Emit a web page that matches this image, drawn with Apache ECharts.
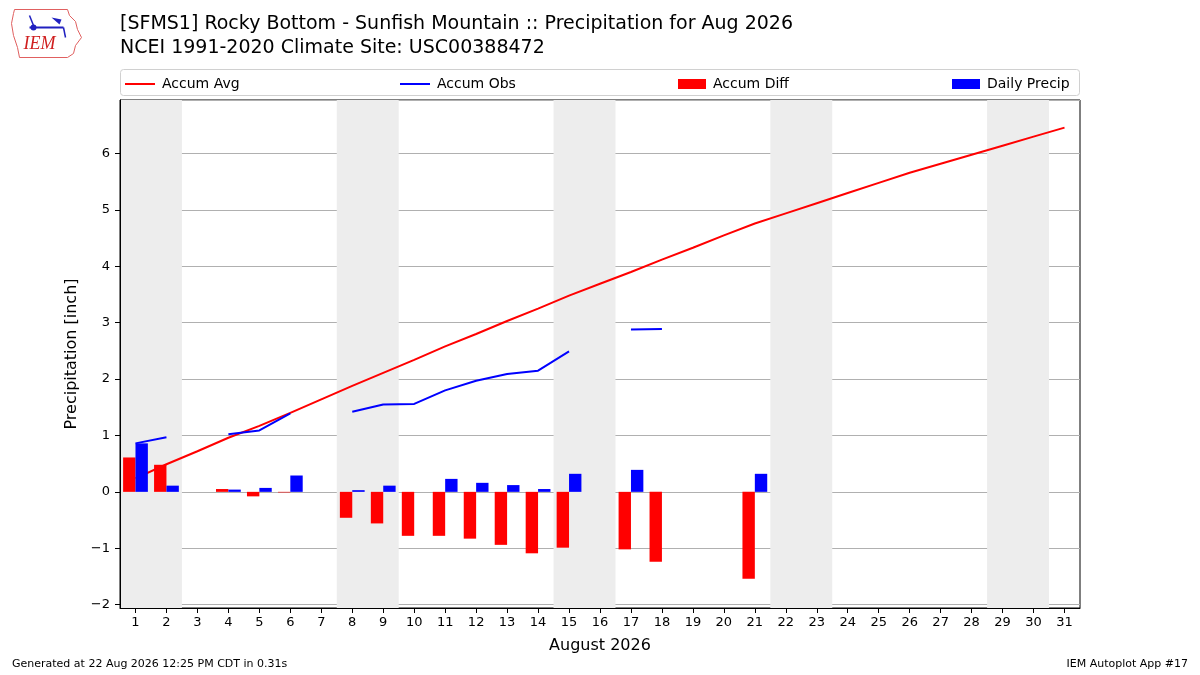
<!DOCTYPE html>
<html>
<head>
<meta charset="utf-8">
<script src="https://cdn.jsdelivr.net/npm/echarts@6/dist/echarts.min.js"></script>
<style>html,body{margin:0;padding:0;background:#fff;}#c{width:1200px;height:675px;}</style>
</head>
<body>
<div id="c"></div>
<script>
const days = Array.from({length: 31}, (_, i) => String(i + 1));
const accumAvg = [0.24,0.49,0.72,0.96,1.17,1.40,1.64,1.88,2.11,2.34,2.58,2.80,3.03,3.25,3.48,3.69,3.90,4.12,4.33,4.55,4.76,4.94,5.12,5.30,5.48,5.66,5.82,5.98,6.14,6.30,6.46];
const accumObs = [0.86,0.97,null,1.02,1.09,1.39,null,1.42,1.55,1.56,1.80,1.97,2.09,2.15,2.49,null,2.88,2.89,null,null,null,null,null,null,null,null,null,null,null,null,null];
const accumDiff = [0.61,0.48,null,0.05,-0.08,-0.01,null,-0.46,-0.56,-0.78,-0.78,-0.83,-0.94,-1.09,-0.99,null,-1.02,-1.24,null,null,-1.54,null,null,null,null,null,null,null,null,null,null];
const dailyPrecip = [0.86,0.11,null,0.04,0.07,0.29,null,0.03,0.11,null,0.23,0.16,0.12,0.05,0.32,null,0.39,null,null,null,0.32,null,null,null,null,null,null,null,null,null,null];
const weekendDays = [[1,2],[8,9],[15,16],[22,23],[29,30]];
const yTicks = [-2,-1,0,1,2,3,4,5,6];

const FONT = 'DejaVu Sans';
const chart = echarts.init(document.getElementById('c'), null, {renderer: 'canvas'});

function legendAt(left, name, isLine) {
  return {
    show: true, left: left, top: 72, orient: 'horizontal',
    data: [name],
    itemWidth: isLine ? 30 : 28, itemHeight: isLine ? 2 : 10,
    icon: 'rect', itemGap: 10,
    textStyle: {fontFamily: FONT, fontSize: 14, color: '#000', padding: [0,0,0,2]},
    selectedMode: false
  };
}

const option = {
  animation: false,
  backgroundColor: '#fff',
  textStyle: {fontFamily: FONT},
  title: [
    {text: '[SFMS1] Rocky Bottom - Sunfish Mountain :: Precipitation for Aug 2026\nNCEI 1991-2020 Climate Site: USC00388472',
     left: 115, top: 7, textStyle: {fontFamily: FONT, fontSize: 19, fontWeight: 'normal', color: '#000', lineHeight: 24}}
  ],
  legend: [
    legendAt(120, 'Accum Avg', true),
    legendAt(395, 'Accum Obs', true),
    legendAt(673, 'Accum Diff', false),
    legendAt(947, 'Daily Precip', false)
  ],
  grid: {left: 120, right: 120, top: 100, bottom: 67, show: true, borderColor: '#000', borderWidth: 1, containLabel: false},
  xAxis: [
    {type: 'category', data: days, boundaryGap: true,
     name: 'August 2026', nameLocation: 'middle', nameGap: 30,
     nameTextStyle: {fontFamily: FONT, fontSize: 16, color: '#000'},
     axisLine: {show: true, onZero: false, lineStyle: {color: '#000', width: 1}},
     axisTick: {show: true, alignWithLabel: true, length: 5, lineStyle: {color: '#000'}},
     axisLabel: {fontFamily: FONT, fontSize: 13, color: '#000', margin: 8, interval: 0},
     splitLine: {show: false}},
    {type: 'value', min: 0.5, max: 31.5, show: false, splitLine: {show: false}}
  ],
  yAxis: [
    {type: 'value', min: -2.06, max: 6.95, minInterval: 1, maxInterval: 1,
     name: 'Precipitation [inch]', nameLocation: 'middle', nameGap: 37, nameRotate: 90,
     nameTextStyle: {fontFamily: FONT, fontSize: 16, color: '#000'},
     axisLine: {show: true, onZero: false, lineStyle: {color: '#000', width: 1}},
     axisTick: {show: true, length: 5, lineStyle: {color: '#000'}},
     axisLabel: {fontFamily: FONT, fontSize: 13, color: '#000', margin: 10, showMinLabel: false, showMaxLabel: false,
       formatter: function (v) { return yTicks.indexOf(v) >= 0 ? String(v).replace('-', '\u2212') : ''; }},
     splitLine: {show: true, lineStyle: {color: '#b0b0b0', width: 1}}}
  ],
  series: [
    {type: 'custom', name: 'weekend', xAxisIndex: 1, yAxisIndex: 0, silent: true, z: 0,
     data: weekendDays,
     renderItem: function (params, api) {
       const s = api.value(0) - 0.5, e = api.value(1) + 0.5;
       const p0 = api.coord([s, 0]), p1 = api.coord([e, 0]);
       const cs = params.coordSys;
       return {type: 'rect', shape: {x: p0[0], y: cs.y, width: p1[0] - p0[0], height: cs.height},
               style: {fill: '#ededed'}};
     }},
    {type: 'line', name: 'Accum Avg', data: accumAvg, symbol: 'none', z: 3,
     lineStyle: {color: '#ff0000', width: 2}, itemStyle: {color: '#ff0000'}},
    {type: 'line', name: 'Accum Obs', data: accumObs, symbol: 'none', connectNulls: false, z: 3,
     lineStyle: {color: '#0000ff', width: 2}, itemStyle: {color: '#0000ff'}},
    {type: 'bar', name: 'Accum Diff', data: accumDiff, barWidth: '40%', barGap: '0%', z: 4,
     itemStyle: {color: '#ff0000'}},
    {type: 'bar', name: 'Daily Precip', data: dailyPrecip, barWidth: '40%', barGap: '0%', z: 4,
     itemStyle: {color: '#0000ff'}}
  ],
  graphic: [
    {type: 'rect', shape: {x: 120.5, y: 69.5, width: 959, height: 26, r: 3}, style: {fill: 'none', stroke: '#d0d0d0', lineWidth: 1}, z: 1},
    {type: 'group', left: 9, top: 7, children: [
      {type: 'polyline', shape: {points: [[3,2],[56,2],[58,8],[64,14],[66,22],[70,30],[64,38],[62,46],[56,50],[8,50],[6,40],[2,28],[0,16],[2,6],[3,2]]},
       style: {fill: 'none', stroke: '#e06060', lineWidth: 1}},
      {type: 'line', shape: {x1: 18, y1: 20, x2: 52, y2: 20}, style: {stroke: '#2020c0', lineWidth: 2}},
      {type: 'circle', shape: {cx: 22, cy: 20, r: 3}, style: {fill: '#2020c0'}},
      {type: 'line', shape: {x1: 18, y1: 8, x2: 22, y2: 18}, style: {stroke: '#2020c0', lineWidth: 1.5}},
      {type: 'polygon', shape: {points: [[40,10],[50,12],[48,17]]}, style: {fill: '#2020c0'}},
      {type: 'line', shape: {x1: 52, y1: 20, x2: 54, y2: 30}, style: {stroke: '#2020c0', lineWidth: 1.5}},
      {type: 'text', style: {text: 'IEM', x: 12, y: 28, fill: '#d02020', font: 'italic 18px "Liberation Serif", serif'}}
    ]},
    {type: 'text', left: 12, top: 659, style: {text: 'Generated at 22 Aug 2026 12:25 PM CDT in 0.31s', fill: '#000', font: '11px "DejaVu Sans"'}},
    {type: 'text', right: 12, top: 659, style: {text: 'IEM Autoplot App #17', fill: '#000', font: '11px "DejaVu Sans"'}}
  ]
};
chart.setOption(option);
</script>
</body>
</html>
